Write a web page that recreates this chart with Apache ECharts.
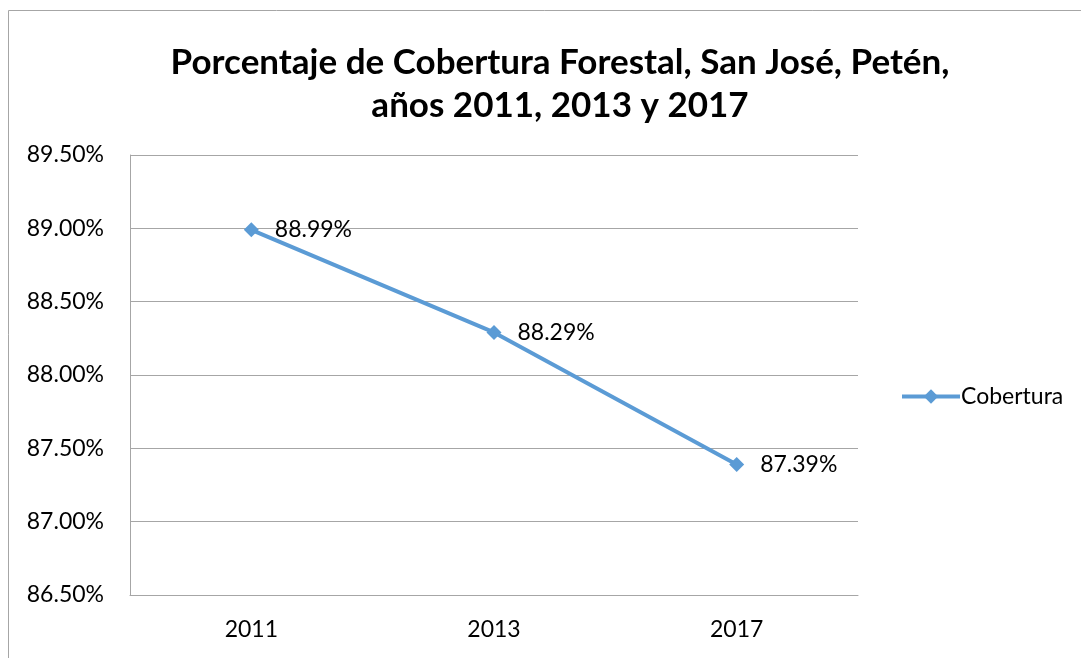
<!DOCTYPE html>
<html>
<head>
<meta charset="utf-8">
<script src="https://cdn.jsdelivr.net/npm/echarts@6/dist/echarts.min.js"></script>
<style>
  html, body { margin: 0; padding: 0; background: #fff; overflow: hidden; }
  #chart { width: 1081px; height: 658px; }
</style>
</head>
<body>
<div id="chart"></div>
<script>
const years = ["2011", "2013", "2017"];
const cobertura = [88.99, 88.29, 87.39];
const yMin = 86.5;
const yMax = 89.5;
const yStep = 0.5;

const chart = echarts.init(document.getElementById("chart"));
const font = "Lato, 'Open Sans', sans-serif";

chart.setOption({
  animation: false,
  backgroundColor: "#fff",
  textStyle: { fontFamily: font },
  // chart area frame: left edge and top edge only
  graphic: [
    {
      type: "line",
      shape: { x1: 8.5, y1: 10.5, x2: 8.5, y2: 658 },
      style: { stroke: "#a6a6a6", lineWidth: 1 },
      silent: true
    },
    {
      type: "line",
      shape: { x1: 8.5, y1: 10.5, x2: 1081, y2: 10.5 },
      style: { stroke: "#a6a6a6", lineWidth: 1 },
      silent: true
    }
  ],
  title: {
    text: "Porcentaje de Cobertura Forestal, San José, Petén,\naños 2011, 2013 y 2017",
    left: 555,
    top: 36,
    textAlign: "center",
    textStyle: {
      fontFamily: font,
      fontSize: 35,
      fontWeight: "bold",
      color: "#000",
      lineHeight: 43
    }
  },
  legend: {
    data: ["Cobertura"],
    orient: "vertical",
    left: 895,
    top: 380,
    itemWidth: 58,
    itemHeight: 18,
    itemGap: 4,
    lineStyle: { width: 4 },
    textStyle: { fontFamily: font, fontSize: 23, color: "#000", padding: [0, 0, 0, -4] }
  },
  grid: { left: 130, right: 223, top: 155, bottom: 63 },
  xAxis: {
    type: "category",
    data: years,
    boundaryGap: true,
    axisLine: { show: true, lineStyle: { color: "#a6a6a6", width: 1 } },
    axisTick: { show: false },
    axisLabel: { fontFamily: font, fontSize: 23, color: "#000", margin: 23 }
  },
  yAxis: {
    type: "value",
    min: yMin,
    max: yMax,
    interval: yStep,
    axisLine: { show: true, lineStyle: { color: "#a6a6a6", width: 1 } },
    axisTick: { show: false },
    splitLine: { show: true, lineStyle: { color: "#a6a6a6", width: 1 } },
    axisLabel: {
      fontFamily: font,
      fontSize: 23,
      color: "#000",
      margin: 26,
      formatter: v => v.toFixed(2) + "%"
    }
  },
  series: [
    {
      name: "Cobertura",
      type: "line",
      data: cobertura,
      symbol: "diamond",
      symbolSize: 15,
      itemStyle: { color: "#5b9bd5" },
      lineStyle: { color: "#5b9bd5", width: 4 },
      label: {
        show: true,
        position: "right",
        distance: 16,
        fontFamily: font,
        fontSize: 23,
        color: "#000",
        formatter: p => p.value.toFixed(2) + "%"
      }
    }
  ]
});
</script>
</body>
</html>
